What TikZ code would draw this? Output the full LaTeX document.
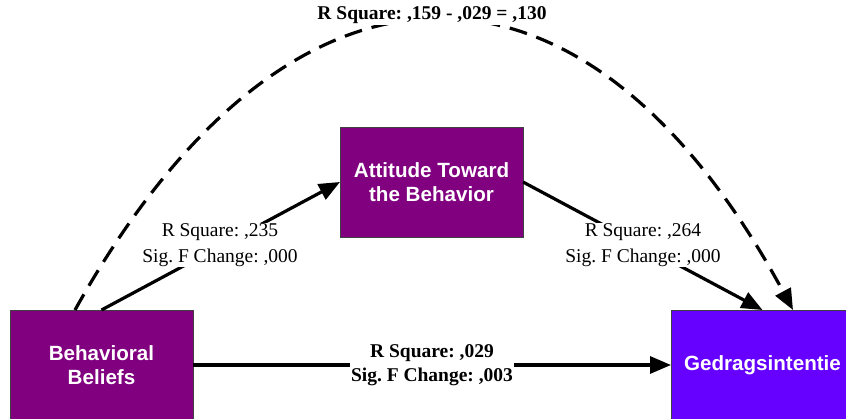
\documentclass[tikz,border=0pt]{standalone}
\usepackage{fontspec}
\setmainfont{Liberation Serif}
\newfontfamily\boxfont{Liberation Sans}
\usetikzlibrary{arrows.meta}
\definecolor{boxpurple}{HTML}{800080}
\definecolor{boxviolet}{HTML}{6600FF}
\frenchspacing
\tikzset{
  varbox/.style={draw=black!75, line width=0.8pt, minimum width=183pt, minimum height=110pt,
    inner sep=0pt, outer sep=0pt, text=white, align=center,
    font=\boxfont\bfseries\fontsize{20.6}{24.5}\selectfont},
  conn/.style={line width=3.2pt, -{Triangle[length=21pt,width=17pt]}},
  dashconn/.style={conn, dash pattern=on 18pt off 10pt},
  lab/.style={fill=white, inner sep=1pt, align=center, font=\fontsize{19.5}{25.5}\selectfont},
  blab/.style={lab, font=\bfseries\fontsize{19.5}{24}\selectfont}
}
\begin{document}
\begin{tikzpicture}[x=1pt,y=-1pt]
\useasboundingbox (0,0) rectangle (846,419);
\node[varbox, fill=boxpurple] (bb) at (101.5,365) {Behavioral\\Beliefs};
\node[varbox, fill=boxpurple] (att) at (431.5,182) {Attitude Toward\\the Behavior};
\node[varbox, fill=boxviolet] (gi) at (762.5,365) {Gedragsintentie};
\coordinate (ds) at (75,310);
\coordinate (de) at (793,310);
\draw[conn] (bb.north) -- (att.west);
\draw[conn] (att.east) -- (gi.north);
\draw[conn] (bb.east) -- (gi.west);
\draw[dashconn] (ds) .. controls (290,-76) and (585,-76) .. (de);
\node[lab] (l1) at (220,245) {R Square: ,235\\Sig. F Change: ,000};
\node[lab] (l2) at (643,245) {R Square: ,264\\Sig. F Change: ,000};
\node[blab] (l3) at (432,365) {R Square: ,029\\Sig. F Change: ,003};
\node[blab, inner xsep=6pt] (l4) at (432,15) {R Square: ,159 - ,029 = ,130};
\end{tikzpicture}
\end{document}
